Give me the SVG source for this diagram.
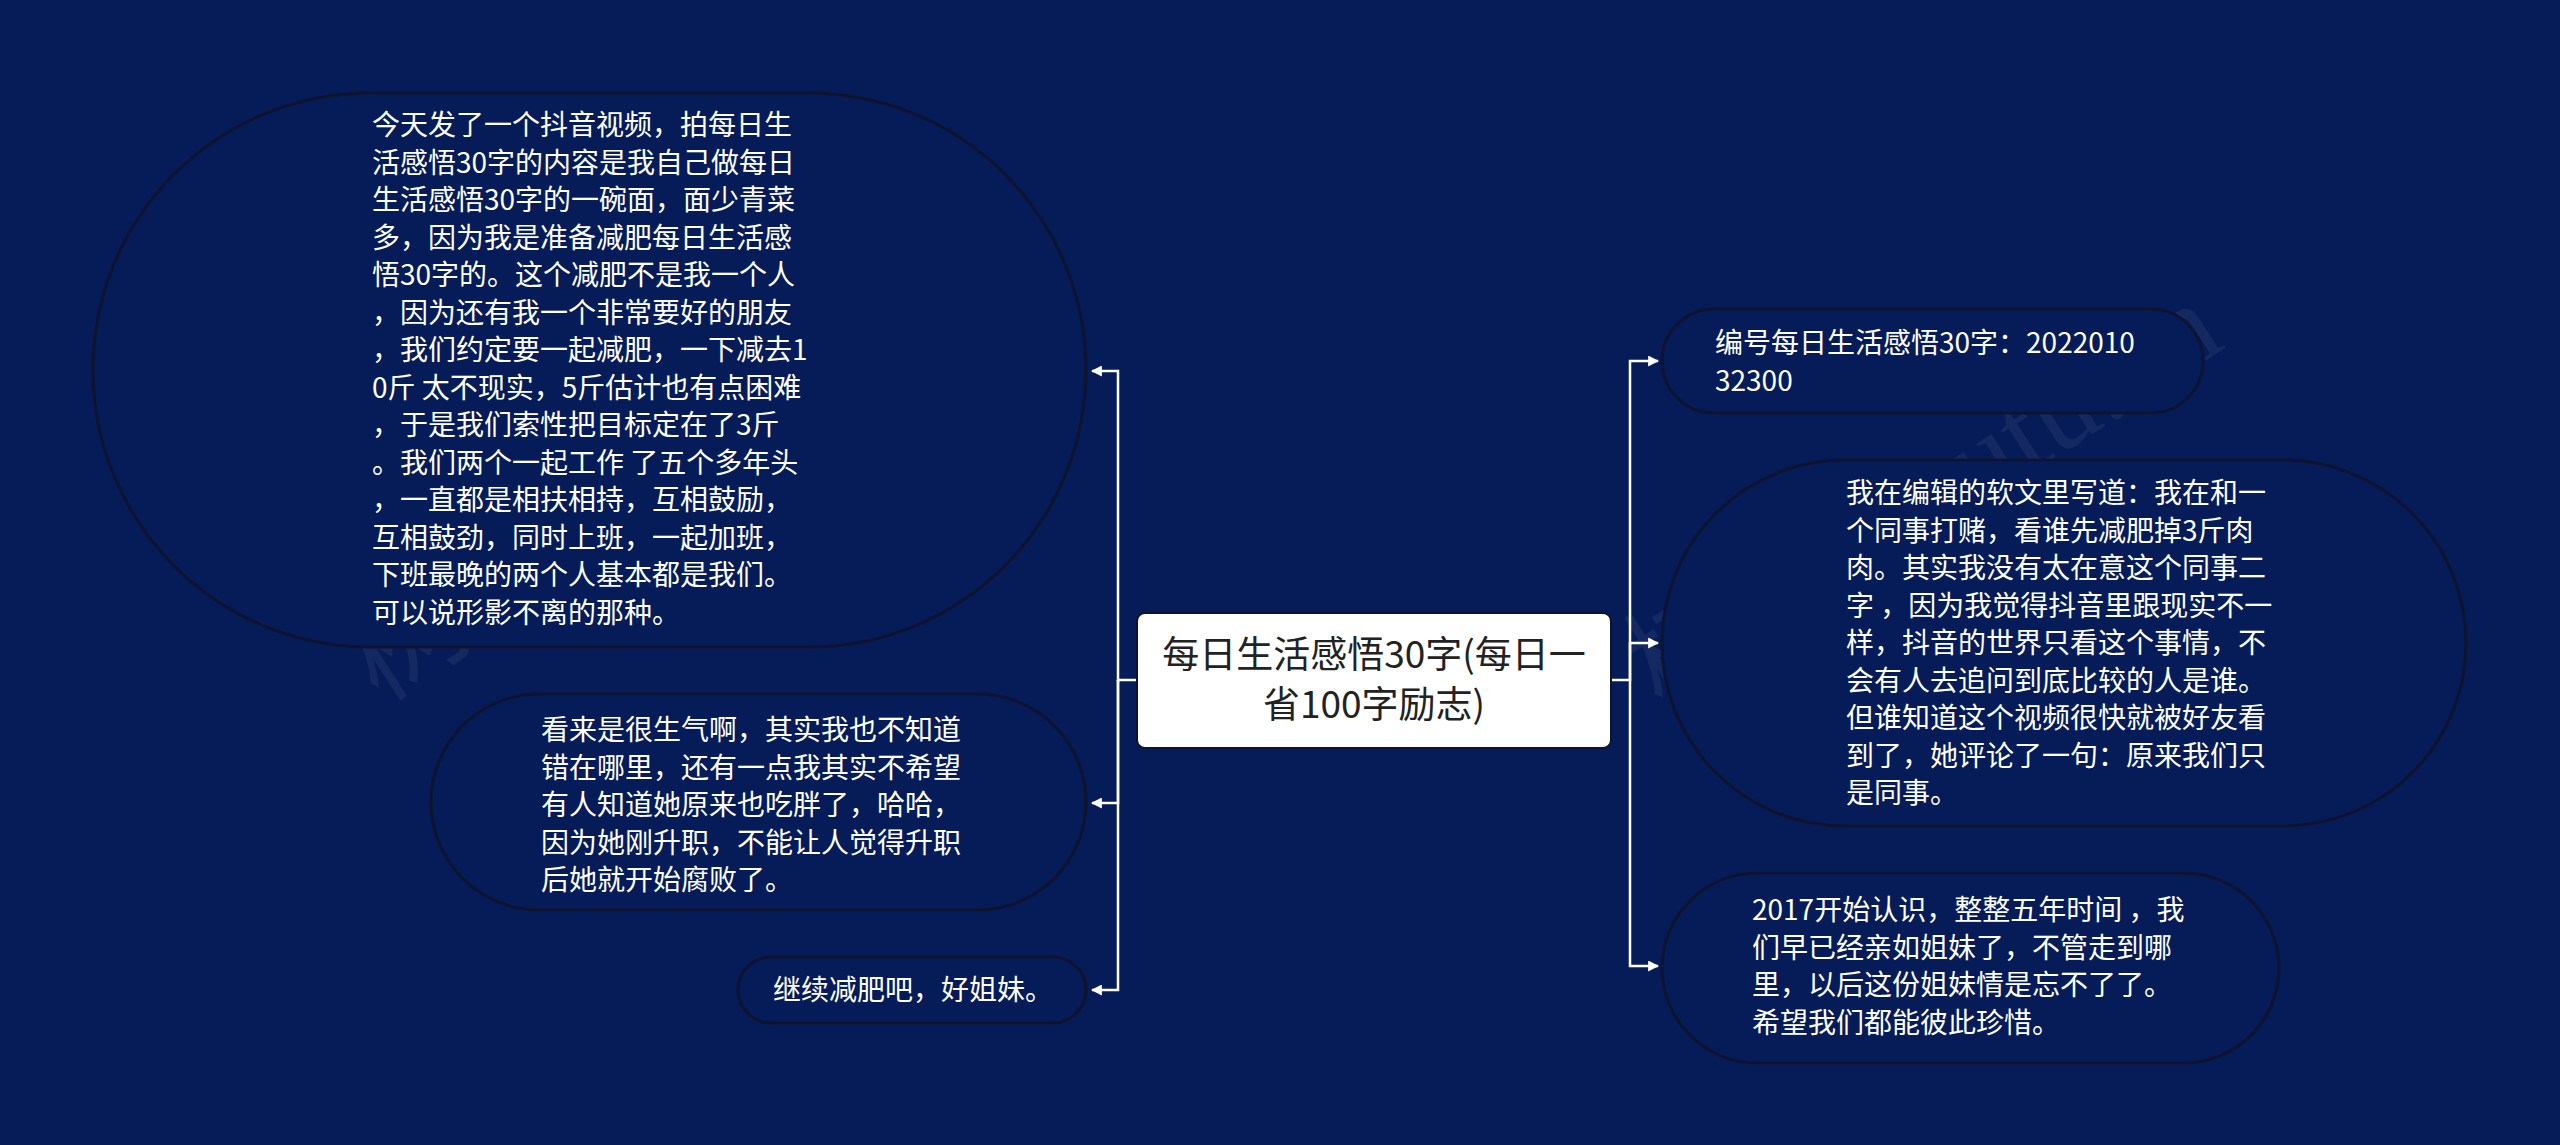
<svg xmlns="http://www.w3.org/2000/svg" width="2560" height="1145" viewBox="0 0 2560 1145">
<style>
.node{fill:#061c58;stroke:#0e1430;stroke-width:3}
.t{font-family:"Noto Sans CJK SC","Noto Sans",sans-serif;font-size:28px;fill:#ffffff}
.c{font-family:"Noto Sans CJK SC","Noto Sans",sans-serif;font-size:37px;fill:#222222;text-anchor:middle}
.wm{font-family:"Liberation Serif","Noto Sans CJK SC",serif;font-size:120px;fill:#ffffff;fill-opacity:0.06}
.link{fill:none;stroke:#ffffff;stroke-width:2.5;marker-end:url(#arr)}
</style>
<defs>
<marker id="arr" viewBox="0 0 10 10" refX="9" refY="5" markerWidth="11" markerHeight="11" markerUnits="userSpaceOnUse" orient="auto">
<path d="M0,0 L10,5 L0,10 z" fill="#ffffff"/>
</marker>
</defs>
<rect x="0" y="0" width="2560" height="1145" fill="#061c58"/>
<g id="watermarks">
<text class="wm" transform="translate(661,520) rotate(-33)" text-anchor="middle">树图 shutu.cn</text>
<text class="wm" transform="translate(1945,530) rotate(-33)" text-anchor="middle">树图 shutu.cn</text>
</g>
<g id="connectors">
<path class="link" d="M1137,680 H1118 V371 H1092"/>
<path class="link" d="M1118,680 V803 H1092"/>
<path class="link" d="M1118,680 V990 H1092"/>
<path class="link" d="M1611,680 H1630 V361 H1658"/>
<path class="link" d="M1630,680 V643 H1658"/>
<path class="link" d="M1630,680 V966 H1658"/>
</g>
<g id="center">
<rect x="1137" y="613" width="474" height="135" rx="8" fill="#ffffff" stroke="#0e1430" stroke-width="2"/>
<text class="c" x="1374" y="668">每日生活感悟30字(每日一</text>
<text class="c" x="1374" y="718">省100字励志)</text>
</g>
<g id="node1">
<rect class="node" x="93" y="93" width="993" height="554" rx="277"/>
<text class="t">
<tspan x="372" y="135">今天发了一个抖音视频，拍每日生</tspan>
<tspan x="372" y="172.5">活感悟30字的内容是我自己做每日</tspan>
<tspan x="372" y="210">生活感悟30字的一碗面，面少青菜</tspan>
<tspan x="372" y="247.5">多，因为我是准备减肥每日生活感</tspan>
<tspan x="372" y="285">悟30字的。这个减肥不是我一个人</tspan>
<tspan x="372" y="322.5">，因为还有我一个非常要好的朋友</tspan>
<tspan x="372" y="360">，我们约定要一起减肥，一下减去1</tspan>
<tspan x="372" y="397.5">0斤 太不现实，5斤估计也有点困难</tspan>
<tspan x="372" y="435">，于是我们索性把目标定在了3斤</tspan>
<tspan x="372" y="472.5">。我们两个一起工作 了五个多年头</tspan>
<tspan x="372" y="510">，一直都是相扶相持，互相鼓励，</tspan>
<tspan x="372" y="547.5">互相鼓劲，同时上班，一起加班，</tspan>
<tspan x="372" y="585">下班最晚的两个人基本都是我们。</tspan>
<tspan x="372" y="622.5">可以说形影不离的那种。</tspan>
</text>
</g>
<g id="node2">
<rect class="node" x="431" y="694" width="655" height="216" rx="108"/>
<text class="t">
<tspan x="541" y="740">看来是很生气啊，其实我也不知道</tspan>
<tspan x="541" y="777.5">错在哪里，还有一点我其实不希望</tspan>
<tspan x="541" y="815">有人知道她原来也吃胖了，哈哈，</tspan>
<tspan x="541" y="852.5">因为她刚升职，不能让人觉得升职</tspan>
<tspan x="541" y="890">后她就开始腐败了。</tspan>
</text>
</g>
<g id="node3">
<rect class="node" x="738" y="957" width="348" height="66" rx="33"/>
<text class="t" x="773" y="1000">继续减肥吧，好姐妹。</text>
</g>
<g id="node4">
<rect class="node" x="1662" y="309" width="541" height="104" rx="52"/>
<text class="t">
<tspan x="1715" y="353">编号每日生活感悟30字：2022010</tspan>
<tspan x="1715" y="390.5">32300</tspan>
</text>
</g>
<g id="node5">
<rect class="node" x="1662" y="460" width="804" height="366" rx="183"/>
<text class="t">
<tspan x="1846" y="503">我在编辑的软文里写道：我在和一</tspan>
<tspan x="1846" y="540.5">个同事打赌，看谁先减肥掉3斤肉</tspan>
<tspan x="1846" y="578">肉。其实我没有太在意这个同事二</tspan>
<tspan x="1846" y="615.5">字 ，因为我觉得抖音里跟现实不一</tspan>
<tspan x="1846" y="653">样，抖音的世界只看这个事情，不</tspan>
<tspan x="1846" y="690.5">会有人去追问到底比较的人是谁。</tspan>
<tspan x="1846" y="728">但谁知道这个视频很快就被好友看</tspan>
<tspan x="1846" y="765.5">到了，她评论了一句：原来我们只</tspan>
<tspan x="1846" y="803">是同事。</tspan>
</text>
</g>
<g id="node6">
<rect class="node" x="1662" y="873" width="617" height="190" rx="95"/>
<text class="t">
<tspan x="1752" y="920">2017开始认识，整整五年时间 ，我</tspan>
<tspan x="1752" y="957.5">们早已经亲如姐妹了，不管走到哪</tspan>
<tspan x="1752" y="995">里，以后这份姐妹情是忘不了了。</tspan>
<tspan x="1752" y="1032.5">希望我们都能彼此珍惜。</tspan>
</text>
</g>
</svg>
